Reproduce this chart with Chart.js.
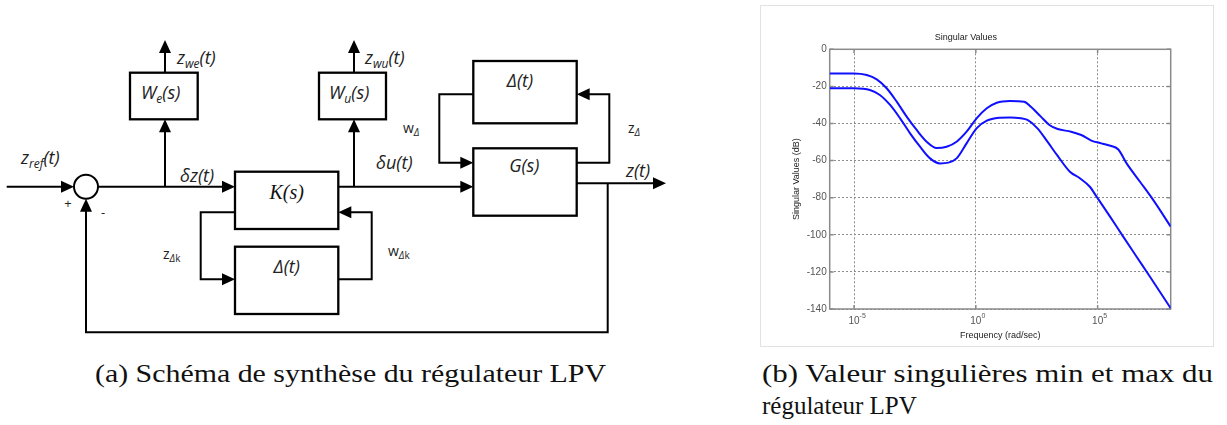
<!DOCTYPE html>
<html>
<head>
<meta charset="utf-8">
<script src="https://cdn.jsdelivr.net/npm/chart.js@4.4.1/dist/chart.umd.min.js"></script>
<style>
  body { margin: 0; background: #fff; width: 1227px; height: 425px; overflow: hidden; position: relative; }
  #page { position: absolute; left: 0; top: 0; }
  #frame { position: absolute; left: 760px; top: 5px; width: 452px; height: 340px; border: 1px solid #e2e2e2; background: #fff; }
  .lbl { font-family: "Open Sans", "DejaVu Sans", sans-serif; font-style: italic; fill: #222; }
  .up { font-family: "Open Sans", "DejaVu Sans", sans-serif; fill: #222; }
  .ser { font-family: "Liberation Serif", "DejaVu Serif", serif; font-style: italic; fill: #111; }
  .cap { font-family: "Liberation Serif", "DejaVu Serif", serif; fill: #111; }
</style>
</head>
<body>
<svg id="page" width="1227" height="425">
  <g stroke="#000" stroke-width="2" fill="none">
    <path d="M6.7 186.7H66"/>
    <path d="M98 186.7H227"/>
    <path d="M165 186.7V127"/>
    <path d="M165 72.7V48"/>
    <path d="M235 212.3H200.7V279.3H227"/>
    <path d="M338.3 279.3H371.7V212.3H346"/>
    <path d="M338.3 186.7H465"/>
    <path d="M354 186.7V127"/>
    <path d="M354 72.7V48"/>
    <path d="M473.3 94.3H439.3V162.7H465"/>
    <path d="M576.7 162.7H609.3V94.3H584"/>
    <path d="M576.7 183.3H658"/>
    <path d="M607.7 183.3V332.3H86V206"/>
    <circle cx="86" cy="186.7" r="12"/>
  </g>
  <g stroke="#000" stroke-width="2.3" fill="none">
    <rect x="130" y="72.7" width="67.7" height="46.6"/>
    <rect x="319" y="72.7" width="67" height="46.6"/>
    <rect x="235" y="171.7" width="103.3" height="57.3"/>
    <rect x="235" y="246.7" width="103.3" height="67.3"/>
    <rect x="473.3" y="61" width="103.4" height="62.3"/>
    <rect x="473.3" y="148.3" width="103.4" height="67.4"/>
  </g>
  <g fill="#000">
    <polygon points="74,186.7 61,180.7 61,192.7"/>
    <polygon points="235,186.7 222,180.7 222,192.7"/>
    <polygon points="165,119.3 159,132.3 171,132.3"/>
    <polygon points="165,40 159,53 171,53"/>
    <polygon points="235,279.3 222,273.3 222,285.3"/>
    <polygon points="338.3,212.3 351.3,206.3 351.3,218.3"/>
    <polygon points="473.3,186.7 460.3,180.7 460.3,192.7"/>
    <polygon points="354,119.3 348,132.3 360,132.3"/>
    <polygon points="354,40 348,53 360,53"/>
    <polygon points="473.3,162.7 460.3,156.7 460.3,168.7"/>
    <polygon points="576.7,94.3 589.7,88.3 589.7,100.3"/>
    <polygon points="666,183.3 653,177.3 653,189.3"/>
    <polygon points="86,198.7 80,211.7 92,211.7"/>
  </g>

  <text class="lbl" x="21" y="164" font-size="18">z<tspan class="up" font-size="12" dy="4">ref</tspan><tspan dy="-4">(t)</tspan></text>
  <text class="up" x="68" y="208" font-size="13" text-anchor="middle">+</text>
  <text class="up" x="103" y="217" font-size="13" text-anchor="middle">-</text>
  <text class="lbl" x="177" y="64" font-size="18">z<tspan font-size="12" dy="4">we</tspan><tspan dy="-4">(t)</tspan></text>
  <text class="lbl" x="141" y="99" font-size="18">W<tspan font-size="12" dy="4">e</tspan><tspan dy="-4">(s)</tspan></text>
  <text class="lbl" x="180" y="182" font-size="18">δz(t)</text>
  <text class="ser" x="286.7" y="199" font-size="20" text-anchor="middle">K(s)</text>
  <text class="up" x="163" y="259" font-size="14">z<tspan font-size="10" dy="3" font-style="italic">Δ</tspan><tspan font-size="10">k</tspan></text>
  <text class="lbl" x="286.7" y="273" font-size="18" text-anchor="middle">Δ(t)</text>
  <text class="up" x="388" y="256" font-size="14">w<tspan font-size="10" dy="3" font-style="italic">Δ</tspan><tspan font-size="10">k</tspan></text>
  <text class="lbl" x="365" y="64" font-size="18">z<tspan font-size="12" dy="4">wu</tspan><tspan dy="-4">(t)</tspan></text>
  <text class="lbl" x="329" y="99" font-size="18">W<tspan font-size="12" dy="4">u</tspan><tspan dy="-4">(s)</tspan></text>
  <text class="lbl" x="376" y="169" font-size="18">δu(t)</text>
  <text class="up" x="403" y="133" font-size="14">w<tspan font-size="10" dy="3" font-style="italic">Δ</tspan></text>
  <text class="lbl" x="520" y="87" font-size="18" text-anchor="middle">Δ(t)</text>
  <text class="lbl" x="524.3" y="172" font-size="18" text-anchor="middle">G(s)</text>
  <text class="up" x="628" y="133" font-size="14">z<tspan font-size="10" dy="3" font-style="italic">Δ</tspan></text>
  <text class="lbl" x="626" y="177" font-size="18">z(t)</text>

  <text class="cap" x="95" y="382" font-size="25" textLength="511" lengthAdjust="spacingAndGlyphs">(a) Schéma de synthèse du régulateur LPV</text>
  <text class="cap" x="762" y="382" font-size="25" textLength="451" lengthAdjust="spacingAndGlyphs">(b) Valeur singulières min et max du</text>
  <text class="cap" x="762" y="414" font-size="25">régulateur LPV</text>
</svg>

<div id="frame"><canvas id="sv" width="452" height="340"></canvas></div>

<script>
// singular values: frequency as log10(rad/sec), gain in dB
const maxFreqExp = [-6, -5, -4.48, -4.07, -3.66, -3.25, -2.84, -2.43, -2.02, -1.61, -1.2, -0.79, -0.38, 0.03, 0.45, 0.86, 1.4, 1.98, 2.26, 2.67, 3.02, 3.36, 3.91, 4.33, 4.74, 5.15, 5.56, 5.85, 6.19, 6.74, 7.28, 8];
const maxGainDb = [-13.1, -13.1, -13.9, -16.2, -21, -28.2, -36.3, -43.5, -49.8, -53.2, -52.5, -49.8, -44.4, -37.2, -31.8, -28.8, -27.9, -28.3, -31, -36.3, -40.8, -43, -44.4, -46.2, -49.2, -50.7, -52.1, -54, -61.5, -71.4, -81.2, -95.6];

const minFreqExp = [-6, -5, -4.35, -3.94, -3.52, -3.11, -2.7, -2.29, -1.88, -1.47, -1.13, -0.79, -0.38, 0.03, 0.45, 0.99, 1.4, 1.85, 2.12, 2.53, 2.94, 3.36, 3.86, 4.27, 4.68, 4.96, 5.51, 6.05, 6.6, 7.15, 8];
const minGainDb = [-21, -21, -21.9, -24.6, -30, -37.2, -45.3, -52.5, -58.8, -61.5, -61.1, -58.8, -50.7, -42.6, -38.5, -36.9, -36.7, -37.2, -38.1, -42.6, -49.8, -57.5, -66, -69.5, -74.1, -79.5, -90.2, -101, -111.8, -122.6, -139.6];

const xTickExps = [-5, 0, 5];
const yTicks = [0, -20, -40, -60, -80, -100, -120, -140];

const toPoints = (exps, gains) => exps.map((e, i) => ({ x: Math.pow(10, e), y: gains[i] }));

const tickFont = "10px 'Liberation Sans', Arial, sans-serif";
const expFont = "7px 'Liberation Sans', Arial, sans-serif";
const gridStyle = { color: "#8c8c8c", lineWidth: 1, drawTicks: false };

// MATLAB style axes box with inward tick marks, plus exponent of the x labels
const axesBox = {
  id: "axesBox",
  beforeDatasetsDraw(chart) {
    const { ctx, chartArea: a, scales } = chart;
    ctx.save();
    ctx.strokeStyle = "#8a8a8a";
    ctx.lineWidth = 1.5;
    ctx.beginPath();
    scales.x.ticks.forEach((t) => {
      const px = scales.x.getPixelForValue(t.value);
      ctx.moveTo(px, a.bottom); ctx.lineTo(px, a.bottom - 4);
      ctx.moveTo(px, a.top); ctx.lineTo(px, a.top + 4);
    });
    scales.y.ticks.forEach((t) => {
      const py = scales.y.getPixelForValue(t.value);
      ctx.moveTo(a.left, py); ctx.lineTo(a.left + 4, py);
      ctx.moveTo(a.right, py); ctx.lineTo(a.right - 4, py);
    });
    ctx.stroke();
    ctx.strokeRect(a.left, a.top, a.right - a.left, a.bottom - a.top);
    ctx.restore();
  },
  afterDraw(chart) {
    const { ctx, chartArea: a, scales } = chart;
    ctx.save();
    ctx.fillStyle = "#555";
    ctx.textBaseline = "alphabetic";
    scales.x.ticks.forEach((t) => {
      const px = scales.x.getPixelForValue(t.value);
      ctx.font = tickFont;
      const w = ctx.measureText("10").width;
      ctx.font = expFont;
      ctx.fillText(String(Math.round(Math.log10(t.value))), px + w / 2, a.bottom + 9);
    });
    ctx.restore();
  },
};

new Chart(document.getElementById("sv").getContext("2d"), {
  type: "line",
  data: {
    datasets: [
      { label: "max", data: toPoints(maxFreqExp, maxGainDb), borderColor: "#1010ff", borderWidth: 2, pointRadius: 0, cubicInterpolationMode: "monotone", fill: false },
      { label: "min", data: toPoints(minFreqExp, minGainDb), borderColor: "#1010ff", borderWidth: 2, pointRadius: 0, cubicInterpolationMode: "monotone", fill: false },
    ],
  },
  options: {
    responsive: false,
    animation: false,
    layout: { padding: { left: 0, right: 42.3, top: 0, bottom: 0 } },
    plugins: {
      legend: { display: false },
      tooltip: { enabled: false },
      title: {
        display: true,
        text: "Singular Values",
        color: "#222",
        font: { family: "Liberation Sans, Arial, sans-serif", size: 9, weight: "normal" },
        padding: { top: 26.3, bottom: 6.2 },
      },
    },
    scales: {
      x: {
        type: "logarithmic",
        min: 1e-6,
        max: 1e8,
        afterBuildTicks: (scale) => { scale.ticks = xTickExps.map((e) => ({ value: Math.pow(10, e) })); },
        afterFit: (scale) => { scale.height = 37; },
        ticks: {
          color: "#555",
          font: { family: "Liberation Sans, Arial, sans-serif", size: 10 },
          padding: 6,
          maxRotation: 0,
          autoSkip: false,
          callback: () => "10",
        },
        grid: { ...gridStyle },
        border: { display: false, dash: [2, 2] },
        title: {
          display: true,
          text: "Frequency (rad/sec)",
          color: "#222",
          font: { family: "Liberation Sans, Arial, sans-serif", size: 9 },
          padding: { top: 0, bottom: 5 },
        },
      },
      y: {
        type: "linear",
        min: -140,
        max: 0,
        afterBuildTicks: (scale) => { scale.ticks = yTicks.map((v) => ({ value: v })); },
        afterFit: (scale) => { scale.width = 68.7; },
        ticks: {
          color: "#555",
          font: { family: "Liberation Sans, Arial, sans-serif", size: 10 },
          padding: 3,
        },
        grid: { ...gridStyle },
        border: { display: false, dash: [2, 2] },
        title: {
          display: true,
          text: "Singular Values (dB)",
          color: "#222",
          font: { family: "Liberation Sans, Arial, sans-serif", size: 9 },
          padding: { top: 29.7, bottom: 0 },
        },
      },
    },
  },
  plugins: [axesBox],
});
</script>
</body>
</html>
